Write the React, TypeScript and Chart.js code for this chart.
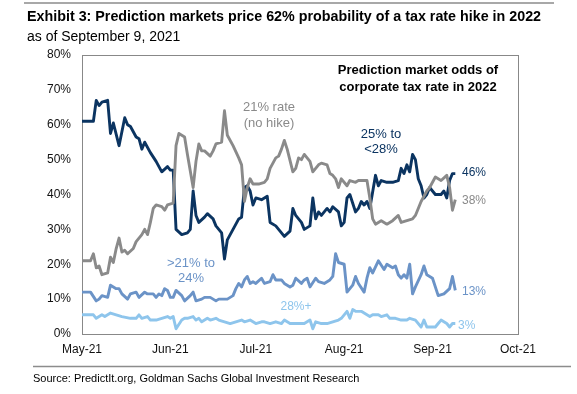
import React, { useEffect, useRef } from "react";
import { Chart, registerables } from "chart.js";

Chart.register(...registerables);

// x values are days since May 1, 2021
const monthTicks = [0, 31, 61, 92, 123, 153];
const monthLabels = ["May-21", "Jun-21", "Jul-21", "Aug-21", "Sep-21", "Oct-21"];
const yTicks = [0, 10, 20, 30, 40, 50, 60, 70, 80];

// "25% to <28%"
const rate25to28: [number, number][] = [
  [0, 61], [4, 61], [5, 67], [6, 65.5], [7, 66.5], [9, 67], [10, 57.5], [11, 60.5], [13, 54], [15, 62],
  [16, 60], [17, 59.5], [19, 56.5], [20, 56], [21, 53], [22, 55], [24, 52], [26, 49.5], [27, 48], [28, 46.5],
  [30, 48], [31, 47], [32, 47], [33, 30], [35, 28.5], [37, 29], [38, 30], [39, 41], [40, 34], [41, 32],
  [43, 33.5], [44, 34.5], [46, 33], [47, 31], [49, 29], [50, 21.5], [51, 27], [53, 30], [55, 33], [56, 33.5],
  [57, 42], [58, 42.5], [59, 41], [60, 37], [61, 39], [63, 38.5], [65, 39.5], [66, 32], [68, 31], [69, 30],
  [70, 29], [71, 28], [73, 29.5], [74, 36], [75, 34], [76, 33], [77, 32], [78, 30], [80, 31], [81, 39],
  [82, 33], [83, 35], [84, 34], [86, 36], [87, 35], [88, 36.5], [90, 35], [91, 31], [92, 32], [93, 39],
  [94, 40], [96, 35], [97, 36], [98, 38], [99, 37], [100, 38], [101, 36], [103, 45.5], [104, 42.5], [105, 44],
  [107, 43.5], [109, 43.5], [111, 44], [112, 47.5], [113, 46], [114, 48.5], [115, 46.5], [116, 51.5], [117, 50], [118, 44.5],
  [119, 42.5], [120, 39], [121, 40], [122, 42], [123, 41], [124, 40], [126, 40], [127, 41], [128, 39], [129, 44],
  [130, 46], [131, 46],
];

// "21% rate (no hike)"
const rate21: [number, number][] = [
  [0, 21], [3, 21], [4, 23], [5, 19], [6, 19.5], [7, 17], [9, 17.5], [10, 22], [11, 20.5], [12, 24.5],
  [13, 27.5], [14, 23.5], [15, 24], [16, 23], [18, 24.5], [19, 26.5], [21, 28.5], [22, 30], [23, 28.5], [24, 32],
  [25, 36], [26, 37], [28, 36.5], [29, 35.5], [30, 37], [32, 37.5], [33, 54], [34, 57.5], [36, 56.5], [37, 51.5],
  [39, 42], [40, 49.5], [41, 54.5], [42, 52.5], [43, 52.5], [45, 51], [46, 52.5], [47, 54.5], [49, 55], [50, 64],
  [51, 57], [53, 54], [55, 50.5], [56, 48.5], [57, 38], [58, 42], [59, 44.5], [60, 43], [62, 43], [64, 43.5],
  [65, 44.5], [66, 47.5], [68, 50.5], [69, 51], [70, 53], [71, 55.5], [72, 53], [74, 46.5], [75, 47.5], [76, 50.5],
  [77, 50], [78, 51.5], [80, 49.5], [81, 46.5], [83, 48.5], [84, 49], [86, 48.5], [87, 46], [88, 45.5], [89, 44.5],
  [90, 42], [91, 44.5], [93, 42.5], [94, 44], [96, 43.5], [97, 44], [99, 44], [100, 44], [101, 39], [102, 33],
  [103, 31.5], [105, 32.5], [107, 31.5], [109, 32.5], [111, 34], [112, 32], [114, 32.5], [116, 33], [117, 34], [119, 38],
  [121, 41], [122, 42], [124, 45], [126, 44], [128, 45.5], [129, 42], [130, 35.5], [131, 38.5],
];

// ">21% to 24%"
const rate21to24: [number, number][] = [
  [0, 12], [3, 12], [5, 9.5], [6, 10], [7, 11], [9, 10.5], [10, 14], [12, 13], [13, 13], [14, 11.5],
  [16, 10], [17, 11.5], [19, 12], [20, 10.5], [22, 12], [23, 11.5], [25, 11.5], [26, 10.5], [27, 11.5], [28, 11],
  [29, 13], [30, 12.5], [31, 10.5], [32, 10.5], [33, 12.5], [35, 11], [36, 9.5], [38, 11], [39, 12], [40, 9.5],
  [42, 10], [43, 10.5], [45, 10.5], [47, 9.5], [48, 10], [50, 10], [51, 10], [53, 11], [54, 13], [55, 14.5],
  [56, 13.5], [57, 15.5], [58, 16.5], [59, 14.5], [60, 15], [61, 14.5], [63, 16], [64, 14.5], [66, 15], [67, 17],
  [68, 15.5], [70, 15.5], [71, 14.5], [73, 13.5], [74, 14], [75, 16], [77, 14.5], [78, 15.5], [79, 16], [80, 13.5],
  [82, 16], [83, 15], [85, 14.5], [87, 15.5], [88, 16.5], [89, 23], [90, 20.5], [92, 20], [93, 12], [95, 14],
  [96, 16.5], [97, 14.5], [99, 12], [100, 16], [101, 19], [102, 17.5], [104, 21], [106, 18.5], [107, 20], [109, 19],
  [110, 19.5], [111, 17], [112, 16], [113, 17], [114, 16], [115, 20], [116, 11.5], [117, 13.5], [119, 17], [120, 19.5],
  [121, 17], [123, 16], [125, 11], [127, 11.5], [129, 13], [130, 16.5], [131, 12.5],
];

// "28%+"
const rate28plus: [number, number][] = [
  [0, 5.5], [4, 5.5], [5, 4.5], [7, 5.5], [8, 5], [10, 6], [12, 5.5], [14, 5], [17, 4.5], [19, 4.5],
  [20, 5.5], [21, 4.5], [23, 5], [24, 4], [26, 4], [28, 4.5], [30, 5], [31, 4.5], [32, 5], [33, 1.5],
  [35, 4], [36, 4.5], [37, 4.5], [39, 5], [40, 4], [41, 4.5], [42, 3.5], [44, 4.5], [45, 4], [47, 4.5],
  [48, 4], [50, 3.5], [52, 3], [54, 3.5], [56, 4], [57, 3.5], [59, 4], [61, 3], [63, 3.5], [64, 3.5],
  [66, 3], [68, 3.5], [70, 3], [71, 4], [73, 3], [75, 3], [78, 3], [80, 4], [81, 1.5], [82, 3.5],
  [84, 3], [86, 3], [88, 3.5], [90, 4], [91, 4.5], [93, 6.5], [94, 4.5], [95, 7], [96, 6.5], [98, 6.5],
  [99, 6], [101, 5], [102, 5.5], [104, 5.5], [105, 5], [107, 5.5], [108, 4.5], [110, 4.5], [112, 4], [114, 4],
  [115, 4.5], [117, 4], [119, 2], [120, 4], [121, 2], [124, 2], [125, 3], [126, 4], [128, 3], [129, 2],
  [130, 3], [131, 3],
];

const NAVY = "#0b3461";
const GRAY = "#8a8a8a";
const MED = "#6b93c7";
const LIGHT = "#8ec5ec";
const FONT = "'Liberation Sans', Arial, sans-serif";

const title = "Exhibit 3: Prediction markets price 62% probability of a tax rate hike in 2022";
const subtitle = "as of September 9, 2021";
const source = "Source: PredictIt.org, Goldman Sachs Global Investment Research";

type Note = { lines: string[]; x: number; y: number; color: string; size: number; bold?: boolean; align: CanvasTextAlign; lh: number };
const notes: Note[] = [
  { lines: ["Prediction market odds of", "corporate tax rate in 2022"], x: 418, y: 70, color: "#000", size: 13, bold: true, align: "center", lh: 17 },
  { lines: ["21% rate", "(no hike)"], x: 269, y: 107, color: GRAY, size: 13, align: "center", lh: 16 },
  { lines: ["25% to", "<28%"], x: 381, y: 134, color: NAVY, size: 13, align: "center", lh: 15 },
  { lines: [">21% to", "24%"], x: 191, y: 263, color: MED, size: 13, align: "center", lh: 15 },
  { lines: ["28%+"], x: 296, y: 307, color: LIGHT, size: 12, align: "center", lh: 15 },
  { lines: ["46%"], x: 462, y: 173, color: NAVY, size: 12, align: "left", lh: 15 },
  { lines: ["38%"], x: 462, y: 201, color: GRAY, size: 12, align: "left", lh: 15 },
  { lines: ["13%"], x: 462, y: 292, color: MED, size: 12, align: "left", lh: 15 },
  { lines: ["3%"], x: 458, y: 326, color: LIGHT, size: 12, align: "left", lh: 15 },
];

const decorPlugin = {
  id: "decor",
  beforeDatasetsDraw(chart: any) {
    const { ctx, chartArea: a } = chart;
    ctx.save();
    ctx.strokeStyle = "#888888";
    ctx.lineWidth = 1;
    ctx.strokeRect(Math.round(a.left) + 0.5, Math.round(a.top) + 0.5, Math.round(a.right - a.left), Math.round(a.bottom - a.top));
    ctx.restore();
  },
  afterDraw(chart: any) {
    const { ctx } = chart;
    ctx.save();
    ctx.strokeStyle = "#8c8c8c";
    ctx.lineWidth = 1.5;
    ctx.beginPath();
    ctx.moveTo(24, 3);
    ctx.lineTo(554, 3);
    ctx.moveTo(33, 366.5);
    ctx.lineTo(571, 366.5);
    ctx.stroke();
    ctx.textBaseline = "middle";
    ctx.textAlign = "left";
    ctx.fillStyle = "#000";
    ctx.font = `bold 14.3px ${FONT}`;
    ctx.fillText(title, 27, 17);
    ctx.font = `14px ${FONT}`;
    ctx.fillText(subtitle, 27, 37);
    ctx.font = `11px ${FONT}`;
    ctx.fillText(source, 33, 379);
    for (const n of notes) {
      ctx.font = `${n.bold ? "bold " : ""}${n.size}px ${FONT}`;
      ctx.fillStyle = n.color;
      ctx.textAlign = n.align;
      n.lines.forEach((l, i) => ctx.fillText(l, n.x, n.y + i * n.lh));
    }
    ctx.restore();
  },
};

const mk = (label: string, pts: [number, number][], color: string) => ({
  label,
  data: pts.map(([x, y]) => ({ x, y })),
  borderColor: color,
  backgroundColor: color,
  borderWidth: 2.9,
  pointRadius: 0,
  tension: 0,
  borderJoinStyle: "round" as const,
  fill: false,
});

export default function App() {
  const ref = useRef<HTMLCanvasElement | null>(null);
  useEffect(() => {
    document.body.style.margin = "0";
    const canvas = ref.current!;
    const chart = new Chart(canvas, {
      type: "line",
      data: {
        datasets: [
          mk("28%+", rate28plus, LIGHT),
          mk(">21% to 24%", rate21to24, MED),
          mk("21% rate (no hike)", rate21, GRAY),
          mk("25% to <28%", rate25to28, NAVY),
        ],
      },
      plugins: [decorPlugin],
      options: {
        responsive: false,
        animation: false,
        devicePixelRatio: 1,
        layout: { padding: { top: 55, right: 59, left: 0, bottom: 0 } },
        plugins: { legend: { display: false }, tooltip: { enabled: false }, title: { display: false } },
        scales: {
          x: {
            type: "linear",
            min: 0,
            max: 153,
            afterBuildTicks: (s: any) => {
              s.ticks = monthTicks.map((v) => ({ value: v }));
            },
            afterFit: (s: any) => {
              s.height = 60;
            },
            grid: { display: false, drawTicks: false },
            border: { display: false },
            ticks: {
              autoSkip: false,
              maxRotation: 0,
              padding: 8,
              color: "#111",
              font: { family: FONT, size: 12 },
              callback: (v: any) => monthLabels[monthTicks.indexOf(Number(v))] ?? "",
            },
          },
          y: {
            min: 0,
            max: 80,
            afterBuildTicks: (s: any) => {
              s.ticks = yTicks.map((v) => ({ value: v }));
            },
            afterFit: (s: any) => {
              s.width = 82;
            },
            grid: { display: false, drawTicks: false },
            border: { display: false },
            ticks: {
              padding: 11,
              color: "#111",
              font: { family: FONT, size: 12 },
              callback: (v: any) => `${v}%`,
            },
          },
        },
      },
    });
    return () => chart.destroy();
  }, []);
  return (
    <div style={{ width: 577, height: 394, background: "#fff" }}>
      <canvas ref={ref} width={577} height={394} style={{ width: 577, height: 394, display: "block" }} />
    </div>
  );
}
